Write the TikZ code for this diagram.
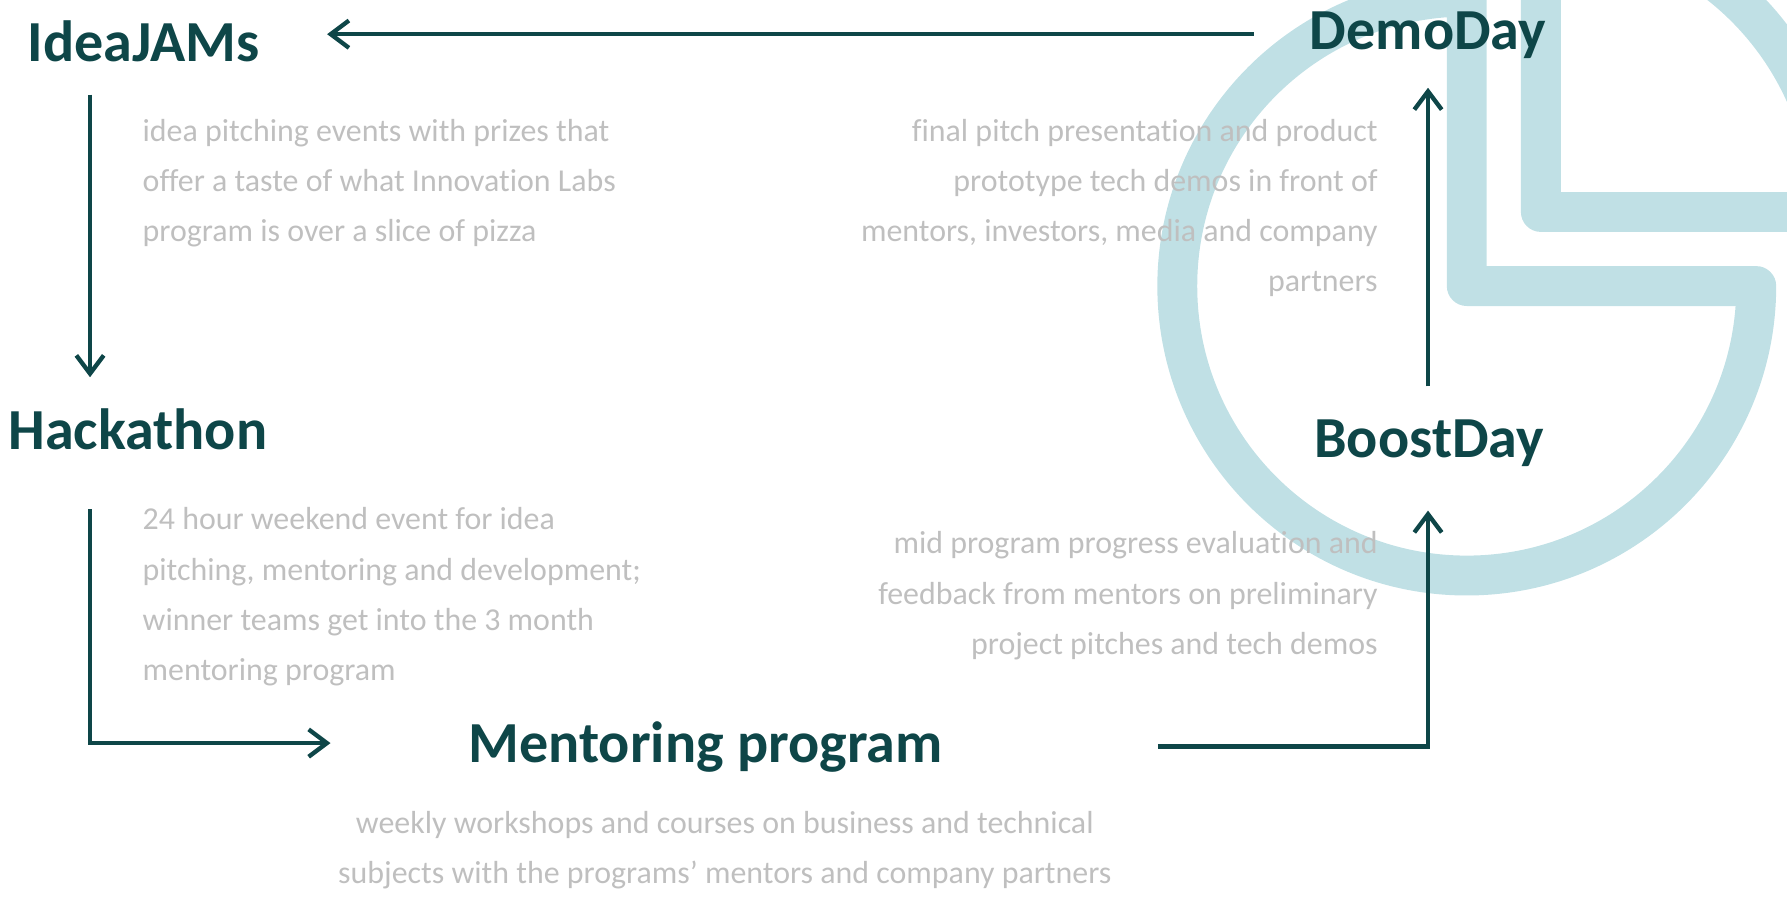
\documentclass[tikz,border=0pt]{standalone}
\usepackage{fontspec}
\setmainfont{Carlito}[Ligatures={NoCommon}]
\usetikzlibrary{arrows.meta}
\definecolor{teal}{RGB}{14,70,72}
\definecolor{ring}{RGB}{192,224,229}
\definecolor{greytext}{RGB}{191,191,191}
\tikzset{
  title/.style={font=\fontsize{51}{61}\selectfont\bfseries, text=teal, inner sep=0pt, anchor=base},
  desc/.style={font=\fontsize{28}{44}\selectfont, text=greytext, inner sep=0pt},
  arr/.style={draw=teal, line width=3.8pt, -{Straight Barb[length=16pt,width=24pt]}},
  pie/.style={draw=ring, line width=35pt, line join=round}
}
\begin{document}
\begin{tikzpicture}[x=1pt,y=-1pt]
\useasboundingbox (0,0) rectangle (1568,787);
\begin{scope}
  \clip (0,0) rectangle (1568,787);
  \coordinate (C) at (1287,251);
  \coordinate (S) at (1352,186);
  \draw[pie] (C) -- ++(254,0) arc[start angle=0, end angle=270, radius=254] -- cycle;
  \draw[pie] (S) -- ++(254,0) arc[start angle=0, end angle=-90, radius=254] -- cycle;
\end{scope}
% titles
\node[title] (idea) at (126,54) {IdeaJAMs};
\node[title] (demo) at (1253,43) {DemoDay};
\node[title] (hack) at (121,394) {Hackathon};
\node[title] (boost) at (1254,401) {BoostDay};
\node[title] (ment) at (619,669) {Mentoring program};
% descriptions (base anchor = last line's baseline)
\node[desc, anchor=base west, align=left] (ideadesc) at (125,212)
  {idea pitching events with prizes that\\offer a taste of what Innovation Labs\\program is over a slice of pizza};
\node[desc, anchor=base east, align=right] (demodesc) at (1209,256)
  {final pitch presentation and product\\prototype tech demos in front of\\mentors, investors, media and company\\partners};
\node[desc, anchor=base west, align=left] (hackdesc) at (125,597)
  {24 hour weekend event for idea\\pitching, mentoring and development;\\winner teams get into the 3 month\\mentoring program};
\node[desc, anchor=base east, align=right] (boostdesc) at (1209,574)
  {mid program progress evaluation and\\feedback from mentors on preliminary\\project pitches and tech demos};
\node[desc, anchor=base, align=center] (mentdesc) at (636,775)
  {weekly workshops and courses on business and technical\\subjects with the programs’ mentors and company partners};
% connector ends
\coordinate (demoOut) at (1100,30);
\coordinate (ideaIn) at (287,30);
\coordinate (ideaOut) at (79,83);
\coordinate (hackIn) at (79,331);
\coordinate (hackOut) at (79,447);
\coordinate (mentIn) at (290,652);
\coordinate (mentOut) at (1016,655);
\coordinate (boostIn) at (1253,448);
\coordinate (boostOut) at (1253,339);
\coordinate (demoIn) at (1253,77);
\draw[arr] (demoOut) -- (ideaIn);
\draw[arr] (ideaOut) -- (hackIn);
\draw[arr, line join=miter] (hackOut) |- (mentIn);
\draw[arr, line join=miter] (mentOut) -| (boostIn);
\draw[arr] (boostOut) -- (demoIn);
\end{tikzpicture}
\end{document}
